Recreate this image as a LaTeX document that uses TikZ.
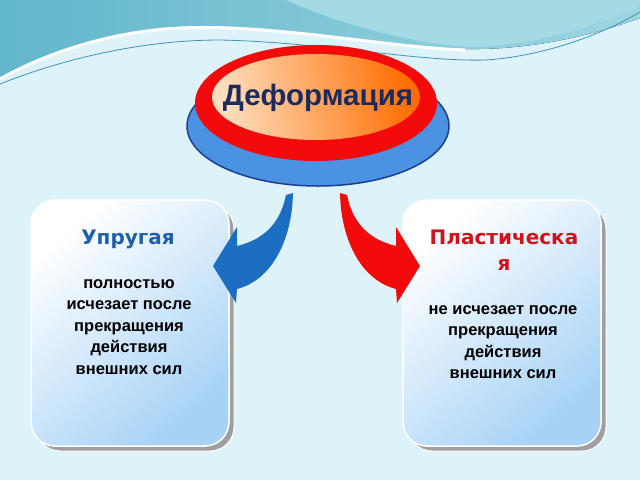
\documentclass[tikz,border=0pt]{standalone}
\usepackage{fontspec}
\setmainfont{Liberation Sans}
\newfontfamily\ttlfont{DejaVu Sans}
\usetikzlibrary{shadings}
\definecolor{bgc}{HTML}{DDF3F9}
\definecolor{tealc}{HTML}{62B6CB}
\definecolor{tealL}{HTML}{A3DAE4}
\definecolor{lineb}{HTML}{3F93B8}
\definecolor{navy}{HTML}{1C2A5E}
\definecolor{bluec}{HTML}{1B6EC2}
\definecolor{redc}{HTML}{F30B0B}
\definecolor{ellblue}{HTML}{4C92E2}
\definecolor{ellnavy}{HTML}{1B3F8E}
\definecolor{boxblue}{HTML}{A6D2F6}
\definecolor{titleblue}{HTML}{1D5FAE}
\definecolor{titlered}{HTML}{D0131B}
\tikzset{
  card/.style={rounded corners=24pt, top color=white, bottom color=boxblue, shading angle=40, draw=white, line width=1.5pt},
  cardshadow/.style={rounded corners=24pt, fill=gray!75, draw=white, line width=1pt},
  bodytxt/.style={font=\bfseries\fontsize{16.5}{21.5}\selectfont, align=center, text=black},
  ttl/.style={font=\ttlfont\bfseries\fontsize{20}{26}\selectfont, align=center}
}
\begin{document}
\begin{tikzpicture}[x=1pt,y=-1pt]
\useasboundingbox (0,0) rectangle (640,480);
\fill[bgc] (0,0) rectangle (640,480);
% waves
\fill[left color=tealc, right color=tealL!90!tealc] (0,0) -- (640,0) -- (640,18) .. controls (580,40) and (520,50) .. (465,49) .. controls (380,46) and (260,20) .. (165,28) .. controls (95,34) and (35,58) .. (0,78) -- cycle;
\fill[tealL] (286,0) .. controls (340,25) and (420,45) .. (470,47) .. controls (540,46) and (600,24) .. (640,6) -- (640,0) -- cycle;
\draw[white, line width=3pt] (0,79) .. controls (35,59) and (95,35) .. (165,29) .. controls (260,21) and (380,47) .. (465,50);
\draw[lineb, line width=0.8pt] (0,84) .. controls (60,60) and (140,40) .. (220,40) .. controls (320,42) and (420,62) .. (485,60) .. controls (550,56) and (610,30) .. (640,12);
% central ellipse
\fill[ellblue] (318,126) ellipse [x radius=131pt, y radius=60pt];
\draw[ellnavy, line width=1.5pt] (318,126) ellipse [x radius=131pt, y radius=60pt];
\fill[redc] (316,103) ellipse [x radius=121pt, y radius=58pt];
\shade[left color=orange!25!white, right color=orange!85!red, shading angle=100] (316,97) ellipse [x radius=104pt, y radius=43pt];
\node[font=\bfseries\fontsize{29.5}{31}\selectfont, text=navy] (def) at (318,98) {Деформация};
% cards
\fill[cardshadow] (36,205) rectangle (234,451);
\shade[card] (31,200) rectangle (229,446);
\fill[cardshadow] (408,205) rectangle (606,451);
\shade[card] (403,200) rectangle (601,446);
% arrows
\fill[bluec] (286,195) .. controls (280,225) and (262,240) .. (237,246) -- (237,227) -- (213,266) -- (236,303) -- (237,289) .. controls (272,280) and (292,240) .. (293,193) -- cycle;
\fill[redc] (347,195) .. controls (353,225) and (371,240) .. (396,246) -- (396,227) -- (420,266) -- (397,303) -- (396,289) .. controls (361,280) and (341,240) .. (340,193) -- cycle;
% texts
\node[ttl, text=titleblue] (t1) at (128,239) {Упругая};
\node[ttl, text=titlered] (t2) at (504,250) {Пластическа\\я};
\node[bodytxt] (b1) at (129,327) {полностью\\исчезает после\\прекращения\\действия\\внешних сил};
\node[bodytxt] (b2) at (503,342) {не исчезает после\\прекращения\\действия\\внешних сил};
\end{tikzpicture}
\end{document}
